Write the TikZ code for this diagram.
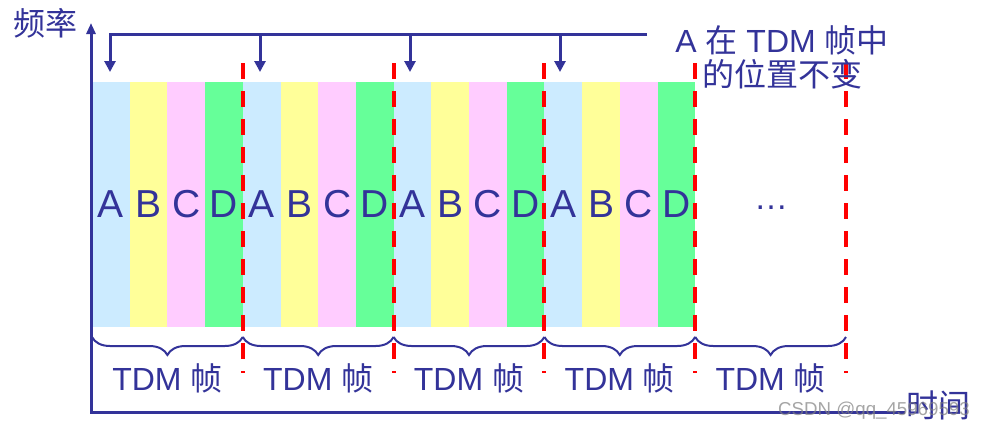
\documentclass[tikz,border=0pt]{standalone}
\usepackage{fontspec}
\setmainfont{Liberation Sans}
\newfontfamily\cjk{Noto Sans CJK SC}
\usetikzlibrary{arrows.meta,decorations.pathreplacing}
\definecolor{tblue}{HTML}{333399}
\definecolor{ca}{HTML}{CCEBFF}
\definecolor{cb}{HTML}{FFFF99}
\definecolor{cc}{HTML}{FFCCFF}
\definecolor{cd}{HTML}{66FF99}
\definecolor{tred}{HTML}{FF0000}
\begin{document}
\begin{tikzpicture}[x=1pt,y=-1pt,
  slot/.style={minimum width=37.8pt, minimum height=245pt, inner sep=0pt, outer sep=0pt,
    anchor=north west, text=tblue, font=\fontsize{39}{39}\selectfont},
  sep/.style={draw=tred, line width=4pt, dash pattern=on 16pt off 12pt},
  brc/.style={draw=tblue, line width=2pt, decorate,
    decoration={brace, mirror, amplitude=18pt}},
  lbl/.style={text=tblue, font=\fontsize{32}{34}\selectfont, inner sep=0pt},
  axis/.style={draw=tblue, line width=3pt, line join=miter},
  pointer/.style={draw=tblue, line width=3pt, -{Triangle[length=11pt,width=11pt]}}]
\useasboundingbox (0,0) rectangle (985,432);
% slots
\foreach \k in {0,1,2,3}{
  \foreach \j/\c/\t in {0/ca/A,1/cb/B,2/cc/C,3/cd/D}{
    \node[slot, fill=\c] (s\k\j) at ({92+150.8*\k+37.7*\j},82) {\t};
  }
}
\node[lbl, font=\fontsize{34}{34}\selectfont] (dots) at (771,208) {…};
% red separators
\foreach \k in {1,...,5}{
  \coordinate (t\k) at ({92+150.8*\k},63);
  \coordinate (b\k) at ({92+150.8*\k},373);
  \draw[sep] (t\k) -- (b\k);
}
% braces and labels
\foreach \k in {0,...,4}{
  \coordinate (bl\k) at ({92+150.8*\k},337);
  \coordinate (br\k) at ({92+150.8*(\k+1)},337);
  \draw[brc] (bl\k) -- (br\k);
  \node[lbl] (f\k) at ({92+150.8*(\k+0.5)},378) {TDM {\cjk 帧}};
}
% axes
\coordinate (o) at (91,412);
\coordinate (ytip) at (91,23);
\coordinate (xend) at (906,412);
\draw[axis, -{Triangle[length=11pt,width=9pt]}] (xend) -- (o) -- (ytip);
\node[lbl] (ylab) at (45,23) {\cjk 频率};
\node[lbl, fill=white, inner sep=1pt] (xlab) at (938,405) {\cjk 时间};
% pointer bracket
\coordinate (pr) at (647,34);
\coordinate (p0) at (110,72);
\draw[pointer] (pr) -| (p0);
\foreach \x in {260,410,560}{
  \coordinate (q\x) at (\x,34);
  \coordinate (r\x) at (\x,72);
  \draw[pointer] (q\x) -- (r\x);
}
\node[lbl, align=center] (note) at (782,57) {A {\cjk 在} TDM {\cjk 帧中}\\{\cjk 的位置不变}};
% watermark
\node[text=gray, opacity=0.7, font=\fontsize{18.7}{19}\selectfont, inner sep=0pt] (wm) at (874,411) {CSDN @qq\_45969593};
\end{tikzpicture}
\end{document}
